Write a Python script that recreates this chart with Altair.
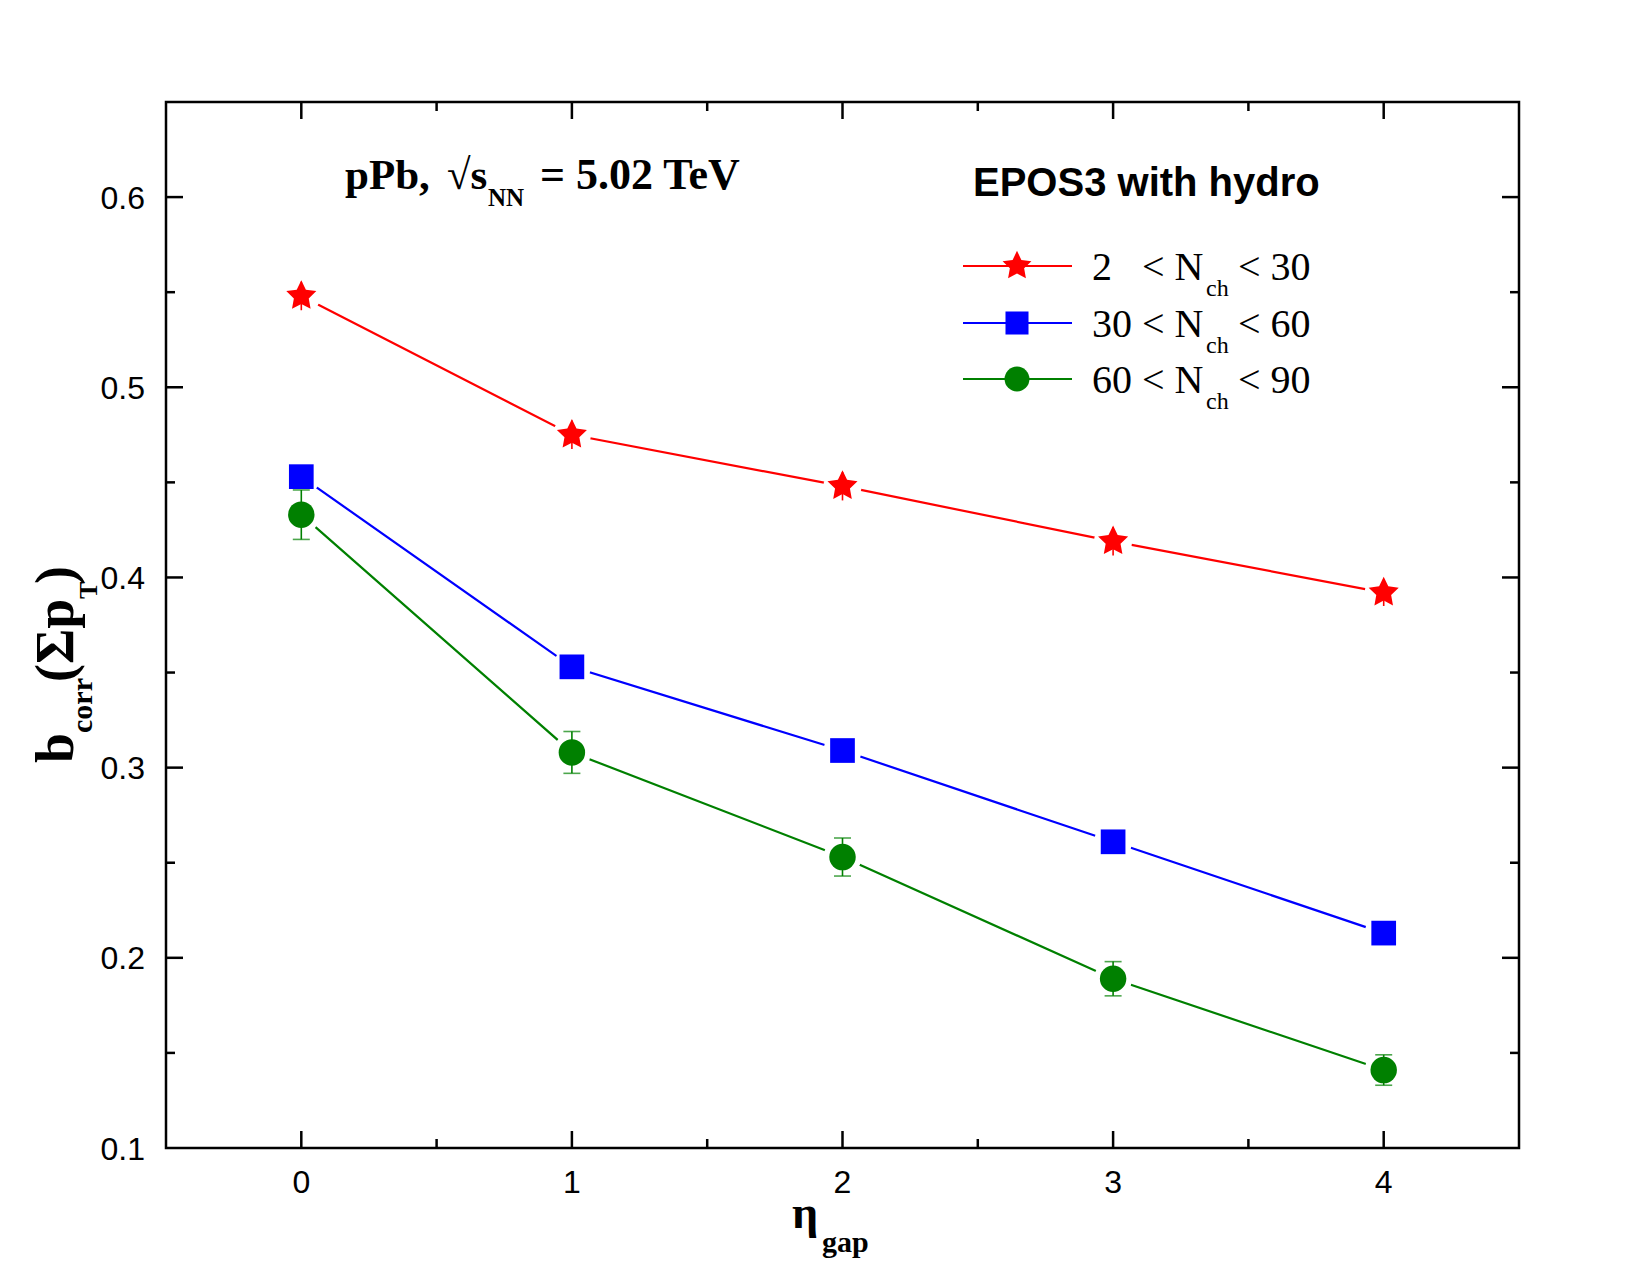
import altair as alt
import pandas as pd

# ---------------- data ----------------
eta_gap = [0, 1, 2, 3, 4]
b_low = [0.548, 0.475, 0.448, 0.419, 0.392]    # 2 < Nch < 30
b_mid = [0.453, 0.353, 0.309, 0.261, 0.213]    # 30 < Nch < 60
b_high = [0.433, 0.308, 0.253, 0.189, 0.141]   # 60 < Nch < 90
err_low = [0.0075, 0.0075, 0.0075, 0.0075, 0.007]
err_mid = [0.004, 0.004, 0.004, 0.004, 0.004]
err_high = [0.013, 0.011, 0.010, 0.009, 0.008]
nch_lo = ["2", "30", "60"]
nch_hi = ["30", "60", "90"]
x_major = [0, 1, 2, 3, 4]
x_minor = [0.5, 1.5, 2.5, 3.5]
y_major = [0.1, 0.2, 0.3, 0.4, 0.5, 0.6]
y_minor = [0.15, 0.25, 0.35, 0.45, 0.55, 0.65]

# ---------------- layout ----------------
W, H = 1353, 1046
xs = alt.Scale(domain=[-0.5, 4.5], nice=False, zero=False)
ys = alt.Scale(domain=[0.1, 0.65], nice=False, zero=False)
SERIF = "Liberation Serif"
SANS = "Liberation Sans"

STAR = ("M0,-1L0.29,-0.4L0.951,-0.309L0.47,0.153L0.588,0.809L0,0.5"
        "L-0.588,0.809L-0.47,0.153L-0.951,-0.309L-0.29,-0.4Z")

styles = [
    dict(color="#ff0000", shape=STAR, size=1000, cap=False),
    dict(color="#0000ff", shape="square", size=610, cap=False),
    dict(color="#008000", shape="circle", size=700, cap=True),
]
vals = [b_low, b_mid, b_high]
errs = [err_low, err_mid, err_high]

dfs = []
for v, e in zip(vals, errs):
    dfs.append(pd.DataFrame({
        "x": eta_gap, "y": v,
        "lo": [a - b for a, b in zip(v, e)],
        "hi": [a + b for a, b in zip(v, e)],
    }))

X = lambda f="x": alt.X(f"{f}:Q", scale=xs, axis=None)
Y = lambda f="y": alt.Y(f"{f}:Q", scale=ys, axis=None)

layers = []

# tick labels
xl = pd.DataFrame({"v": x_major, "t": [str(v) for v in x_major]})
yl = pd.DataFrame({"v": y_major, "t": [f"{v:.1f}" for v in y_major]})
layers.append(alt.Chart(xl).mark_text(font=SANS, fontSize=32, align="center",
                                      baseline="alphabetic", color="black").encode(
    x=X("v"), y=alt.value(H + 45), text="t:N"))
layers.append(alt.Chart(yl).mark_text(font=SANS, fontSize=32, align="right",
                                      baseline="alphabetic", dy=11.5, color="black").encode(
    y=Y("v"), x=alt.value(-21), text="t:N"))

# frame ticks (inward, mirrored)
def xticks(values, length):
    d = pd.DataFrame({"v": values})
    return [
        alt.Chart(d).mark_rule(color="black", strokeWidth=2.5).encode(
            x=X("v"), y=alt.value(H), y2=alt.value(H - length)),
        alt.Chart(d).mark_rule(color="black", strokeWidth=2.5).encode(
            x=X("v"), y=alt.value(0), y2=alt.value(length)),
    ]

def yticks(values, length):
    d = pd.DataFrame({"v": values})
    return [
        alt.Chart(d).mark_rule(color="black", strokeWidth=2.5).encode(
            y=Y("v"), x=alt.value(0), x2=alt.value(length)),
        alt.Chart(d).mark_rule(color="black", strokeWidth=2.5).encode(
            y=Y("v"), x=alt.value(W), x2=alt.value(W - length)),
    ]

layers += xticks(x_major, 17) + xticks(x_minor, 9)
layers += yticks(y_major[1:], 17) + yticks(y_minor[:-1], 9)

# series lines
for d, s in zip(dfs, styles):
    layers.append(alt.Chart(d).mark_line(color=s["color"], strokeWidth=2.2).encode(x=X(), y=Y()))
# white gaps around symbols
for d, s in zip(dfs, styles):
    layers.append(alt.Chart(d).mark_point(shape="circle", filled=True, color="white",
                                          opacity=1, size=1444, strokeWidth=0).encode(x=X(), y=Y()))
# error bars
for d, s in zip(dfs, styles):
    layers.append(alt.Chart(d).mark_rule(color=s["color"], strokeWidth=1.6).encode(
        x=X(), y=Y("lo"), y2="hi:Q"))
    if s["cap"]:
        for f in ["lo", "hi"]:
            layers.append(alt.Chart(d).mark_tick(orient="horizontal", size=17, thickness=1.6,
                                                 color=s["color"]).encode(x=X(), y=Y(f)))
# symbols
for d, s in zip(dfs, styles):
    layers.append(alt.Chart(d).mark_point(shape=s["shape"], filled=True, color=s["color"],
                                          opacity=1, size=s["size"], strokeWidth=0).encode(x=X(), y=Y()))

# ---------------- text ----------------
one = pd.DataFrame({"k": [0]})

def txt(s, x, y, size, font=SERIF, bold=False, angle=0):
    kw = dict(text=s, align="left", baseline="alphabetic", font=font, fontSize=size,
              fontWeight="bold" if bold else "normal", color="black")
    if angle:
        kw["angle"] = angle
    return alt.Chart(one).mark_text(**kw).encode(x=alt.value(x), y=alt.value(y))

# y-axis title b_corr(Σp_T)
layers += [
    txt("b", -93, 661, 54, bold=True, angle=270),
    txt("corr", -74, 631, 30, bold=True, angle=270),
    txt("(Σp", -93, 580, 54, bold=True, angle=270),
    txt("T", -69, 497, 26, bold=True, angle=270),
    txt(")", -93, 482, 54, bold=True, angle=270),
]
# x-axis title η_gap
layers += [
    txt("η", 626, 1126, 46, bold=True),
    txt("gap", 656, 1150, 30, bold=True),
]
# collision annotation
layers += [
    txt("pPb,", 179, 87, 43, bold=True),
    txt("√s", 281, 87, 43, bold=True),
    txt("NN", 322, 104, 25, bold=True),
    txt("= 5.02 TeV", 374, 87, 44, bold=True),
]
# legend
layers.append(txt("EPOS3 with hydro", 807, 94, 40, font=SANS, bold=True))
row_y = [164, 221, 277]
for i, s in enumerate(styles):
    yy = row_y[i]
    layers.append(alt.Chart(one).mark_rule(color=s["color"], strokeWidth=2.2).encode(
        x=alt.value(797), x2=alt.value(906), y=alt.value(yy)))
    layers.append(alt.Chart(one).mark_point(shape=s["shape"], filled=True, color=s["color"],
                                            opacity=1, size=s["size"] - 80, strokeWidth=0).encode(
        x=alt.value(851), y=alt.value(yy)))
    layers += [
        txt(nch_lo[i], 926, yy + 14, 40),
        txt("< N", 976, yy + 14, 40),
        txt("ch", 1040, yy + 30, 24),
        txt("< " + nch_hi[i], 1072, yy + 14, 40),
    ]

chart = alt.layer(*layers).properties(
    width=W, height=H,
    padding={"left": 158, "top": 94, "right": 100, "bottom": 110},
    autosize=alt.AutoSizeParams(type="none"),
).configure_view(stroke="black", strokeWidth=2.5)

chart.save("out.html", embed_options={"renderer": "svg", "actions": False})
